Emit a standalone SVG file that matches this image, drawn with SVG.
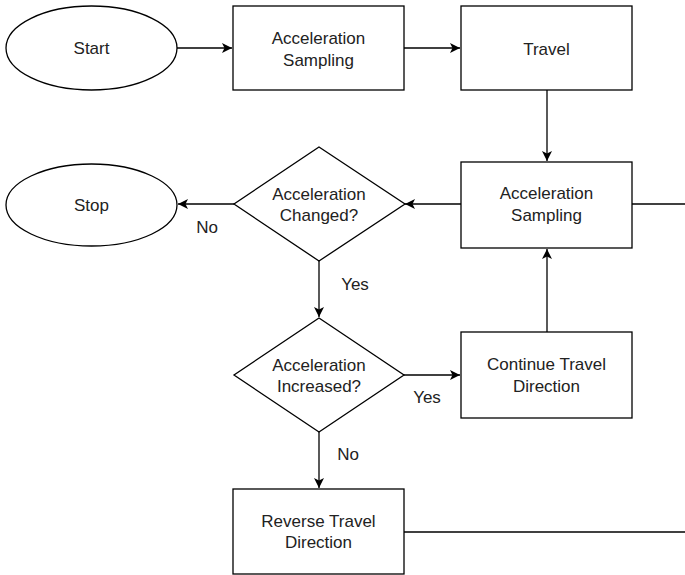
<svg xmlns="http://www.w3.org/2000/svg" width="685" height="575" viewBox="0 0 685 575">
<defs>
<marker id="arr" markerWidth="12" markerHeight="12" refX="10" refY="5" orient="auto" markerUnits="userSpaceOnUse">
<path d="M0,0 L10,5 L0,10 L2.5,5 Z" fill="#000"/>
</marker>
</defs>
<style>
.s{fill:#fff;stroke:#000;stroke-width:1.3}
.t{font-family:"Liberation Sans",Arial,sans-serif;font-size:17px;fill:#222;text-anchor:middle}
.c{fill:none;stroke:#000;stroke-width:1.3}
</style>
<rect width="685" height="575" fill="#fff"/>
<g id="connectors">
<line class="c" x1="177" y1="48" x2="232" y2="48" marker-end="url(#arr)"/>
<line class="c" x1="404" y1="48" x2="460" y2="48" marker-end="url(#arr)"/>
<line class="c" x1="547" y1="90" x2="547" y2="161" marker-end="url(#arr)"/>
<line class="c" x1="632" y1="204" x2="685" y2="204"/>
<line class="c" x1="461" y1="204" x2="405" y2="204" marker-end="url(#arr)"/>
<line class="c" x1="234" y1="204" x2="178" y2="204" marker-end="url(#arr)"/>
<line class="c" x1="319" y1="261" x2="319" y2="317" marker-end="url(#arr)"/>
<line class="c" x1="404" y1="375" x2="460" y2="375" marker-end="url(#arr)"/>
<line class="c" x1="547" y1="332" x2="547" y2="249" marker-end="url(#arr)"/>
<line class="c" x1="319" y1="432" x2="319" y2="488" marker-end="url(#arr)"/>
<line class="c" x1="404" y1="532" x2="685" y2="532"/>
<text class="t" x="207" y="233">No</text>
<text class="t" x="355" y="290">Yes</text>
<text class="t" x="427" y="403">Yes</text>
<text class="t" x="348" y="460">No</text>
</g>
<g id="start">
<ellipse class="s" cx="91.5" cy="48" rx="85.5" ry="42"/>
<text class="t" x="91.5" y="54">Start</text>
</g>
<g id="sampling1">
<rect class="s" x="233" y="6" width="171" height="84"/>
<text class="t" x="318.5" y="44">Acceleration</text>
<text class="t" x="318.5" y="66">Sampling</text>
</g>
<g id="travel">
<rect class="s" x="461" y="6" width="171" height="84"/>
<text class="t" x="546.5" y="55">Travel</text>
</g>
<g id="sampling2">
<rect class="s" x="461" y="162" width="171" height="86"/>
<text class="t" x="546.5" y="199">Acceleration</text>
<text class="t" x="546.5" y="221">Sampling</text>
</g>
<g id="changed">
<polygon class="s" points="319,147 405,204 319,261 234,204"/>
<text class="t" x="319" y="200">Acceleration</text>
<text class="t" x="319" y="221">Changed?</text>
</g>
<g id="stop">
<ellipse class="s" cx="91.5" cy="205" rx="85.5" ry="41"/>
<text class="t" x="91.5" y="211">Stop</text>
</g>
<g id="increased">
<polygon class="s" points="319,318 404,375 319,432 234,375"/>
<text class="t" x="319" y="371">Acceleration</text>
<text class="t" x="319" y="392">Increased?</text>
</g>
<g id="continue">
<rect class="s" x="461" y="332" width="171" height="86"/>
<text class="t" x="546.5" y="370">Continue Travel</text>
<text class="t" x="546.5" y="392">Direction</text>
</g>
<g id="reverse">
<rect class="s" x="233" y="489" width="171" height="85"/>
<text class="t" x="318.5" y="527">Reverse Travel</text>
<text class="t" x="318.5" y="548">Direction</text>
</g>
</svg>
